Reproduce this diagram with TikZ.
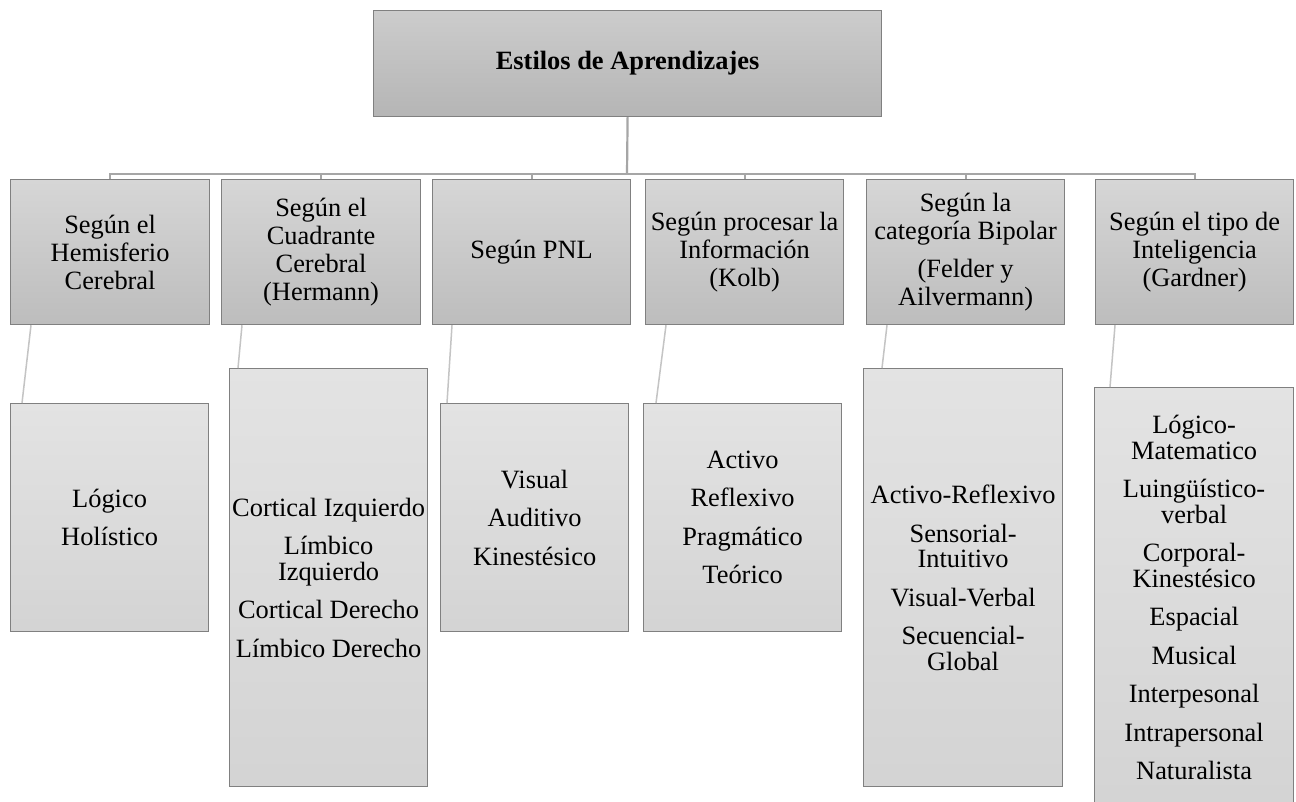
\documentclass[tikz,border=0pt]{standalone}
\usepackage{fontspec}
\setmainfont{Liberation Serif}
\definecolor{borde}{HTML}{808080}
\definecolor{linea}{HTML}{A6A6A6}
\definecolor{lineaclara}{HTML}{C4C4C4}
\begin{document}
\begin{tikzpicture}[x=1pt,y=-1pt,
    caja/.style={rectangle,draw=borde,line width=1.2pt,inner sep=0pt,anchor=north west,align=center,
      font=\fontsize{26.4}{28}\selectfont},
    titulo/.style={caja,top color=black!20,bottom color=black!29},
    categoria/.style={caja,top color=black!16,bottom color=black!26},
    estilo/.style={caja,top color=black!11,bottom color=black!17,font=\fontsize{26.4}{25.5}\selectfont},
    rama/.style={draw=linea,line width=2.2pt},
    enlace/.style={draw=lineaclara,line width=1.5pt}]
  \clip (0,0) rectangle (1296,801);
  \fill[white] (0,0) rectangle (1296,801);
  % titulo
  \node[titulo,minimum width=508pt,minimum height=106pt] (top) at (373,10) {\textbf{Estilos de Aprendizajes}};
  % categorias
  \node[categoria,minimum width=199pt,minimum height=145pt] (c1) at (10,179) {Según el\\Hemisferio\\Cerebral};
  \node[categoria,minimum width=199pt,minimum height=145pt] (c2) at (221,179) {Según el\\Cuadrante\\Cerebral\\(Hermann)};
  \node[categoria,minimum width=198pt,minimum height=145pt] (c3) at (432,179) {Según PNL};
  \node[categoria,minimum width=198pt,minimum height=145pt] (c4) at (645,179) {Según procesar la\\Información\\(Kolb)};
  \node[categoria,minimum width=198pt,minimum height=145pt] (c5) at (866,179) {Según la\\categoría Bipolar\\[10pt](Felder y\\Ailvermann)};
  \node[categoria,minimum width=198pt,minimum height=145pt] (c6) at (1095,179) {Según el tipo de\\Inteligencia\\(Gardner)};
  % estilos
  \node[estilo,minimum width=198pt,minimum height=228pt] (e1) at (10,403) {Lógico\\[13pt]Holístico};
  \node[estilo,minimum width=198pt,minimum height=418pt] (e2) at (229,368) {Cortical Izquierdo\\[13pt]Límbico\\Izquierdo\\[13pt]Cortical Derecho\\[13pt]Límbico Derecho};
  \node[estilo,minimum width=188pt,minimum height=228pt] (e3) at (440,403) {Visual\\[13pt]Auditivo\\[13pt]Kinestésico};
  \node[estilo,minimum width=198pt,minimum height=228pt] (e4) at (643,403) {Activo\\[13pt]Reflexivo\\[13pt]Pragmático\\[13pt]Teórico};
  \node[estilo,minimum width=199pt,minimum height=418pt] (e5) at (863,368) {Activo-Reflexivo\\[13pt]Sensorial-\\Intuitivo\\[13pt]Visual-Verbal\\[13pt]Secuencial-\\Global};
  \node[estilo,minimum width=199pt,minimum height=420pt] (e6) at (1094,387) {Lógico-\\Matematico\\[13pt]Luingüístico-\\verbal\\[13pt]Corporal-\\Kinestésico\\[13pt]Espacial\\[13pt]Musical\\[13pt]Interpesonal\\[13pt]Intrapersonal\\[13pt]Naturalista};
  % conectores
  \coordinate (barra) at (627,174);
  \path[rama] (top.south) -- (barra);
  \path[rama] (top.south |- barra) -| (c1.north);
  \path[rama] (top.south |- barra) -| (c2.north);
  \path[rama] (top.south |- barra) -| (c3.north);
  \path[rama] (top.south |- barra) -| (c4.north);
  \path[rama] (top.south |- barra) -| (c5.north);
  \path[rama] (top.south |- barra) -| (c6.north);
  \path[enlace] ([xshift=21pt]c1.south west) -- ([xshift=12pt]e1.north west);
  \path[enlace] ([xshift=21pt]c2.south west) -- ([xshift=9pt]e2.north west);
  \path[enlace] ([xshift=20pt]c3.south west) -- ([xshift=7pt]e3.north west);
  \path[enlace] ([xshift=21pt]c4.south west) -- ([xshift=13pt]e4.north west);
  \path[enlace] ([xshift=21pt]c5.south west) -- ([xshift=19pt]e5.north west);
  \path[enlace] ([xshift=20pt]c6.south west) -- ([xshift=16pt]e6.north west);
\end{tikzpicture}
\end{document}
